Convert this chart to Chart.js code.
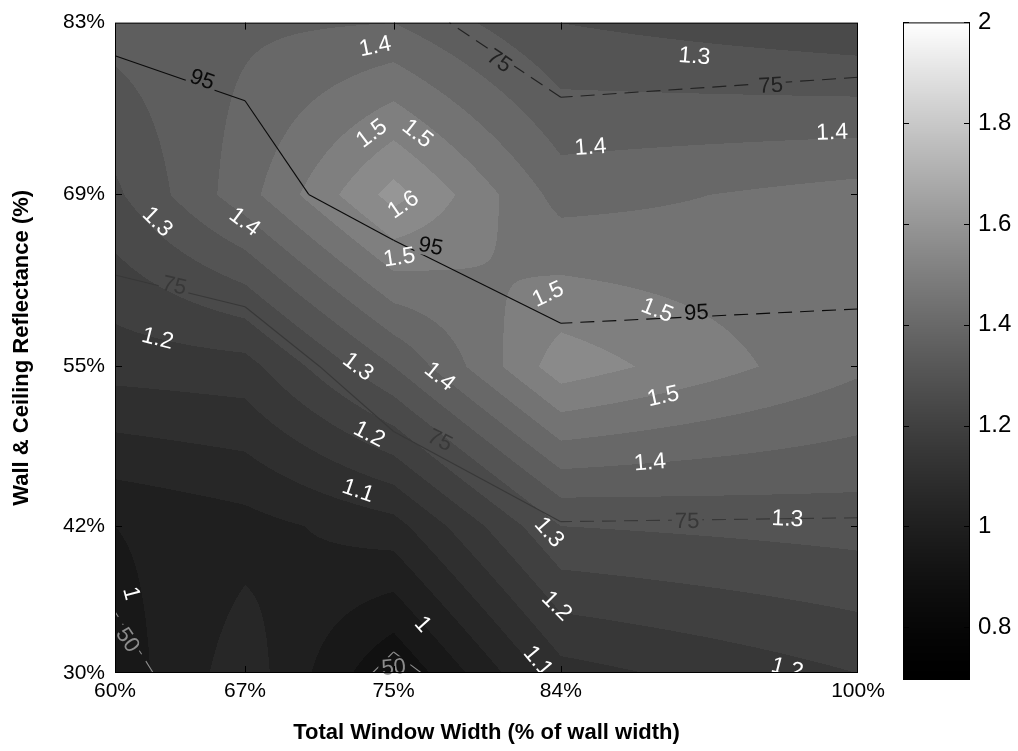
<!DOCTYPE html>
<html>
<head>
<meta charset="utf-8">
<script src="https://cdn.jsdelivr.net/npm/chart.js@4.4.0/dist/chart.umd.min.js"></script>
<style>
    html, body { margin: 0; padding: 0; background: #fff; }
    #wrap { position: relative; width: 1018px; height: 751px; overflow: hidden; }
    #main { position: absolute; left: 0; top: 0; }
    #bar { position: absolute; left: 880px; top: 0; }
</style>
</head>
<body>
<div id="wrap">
    <canvas id="main" width="1018" height="751"></canvas>
    <canvas id="bar" width="138" height="751"></canvas>
</div>
<script>
// axes
const windowWidth = [60, 67, 75, 84, 100];
const xTickText = ['60%', '67%', '75%', '84%', '100%'];
const reflectance = [30, 42, 55, 69, 83];
const yTickText = ['30%', '42%', '55%', '69%', '83%'];

// filled field, one row per reflectance, left to right by window width
const ratio30 = [0.97, 1.08, 0.90, 1.13, 1.20];
const ratio42 = [1.00, 1.03, 1.08, 1.30, 1.32];
const ratio55 = [1.17, 1.18, 1.35, 1.58, 1.46];
const ratio69 = [1.29, 1.43, 1.62, 1.43, 1.47];
const ratio83 = [1.37, 1.39, 1.40, 1.30, 1.26];

// overlaid line field A (50 / 75 / 95 contours)
const coverA30 = [45, 62, 48, 60, 62];
const coverA42 = [57, 62, 62, 74.5, 74];
const coverA55 = [58, 66, 84, 94, 94];
const coverA69 = [90, 92, 99, 98, 97];
const coverA83 = [96.2, 97.5, 99, 98, 97];
const coverALevels = [50, 75, 95];

// overlaid line field B (dashed 75 contour near the top)
const coverB30 = [90, 90, 90, 90, 90];
const coverB42 = [90, 90, 90, 90, 90];
const coverB55 = [90, 90, 90, 90, 90];
const coverB69 = [90, 90, 90, 88, 90];
const coverB83 = [90, 90, 80, 65, 68];
const coverBLevels = [75];

// contour labels of the filled field
const ratioLabelX = [74.0, 91.2, 73.8, 76.3, 85.6, 98.6, 62.3, 67.0, 75.5, 75.3, 83.3, 89.2, 89.5,
    62.3, 73.1, 77.5, 88.8, 73.7, 73.1, 83.4, 96.2, 60.9, 83.8, 76.6, 82.8, 96.2];
const ratioLabelY = [81.1, 80.3, 74.0, 74.0, 72.9, 74.1, 66.8, 66.8, 68.2, 63.9, 60.9, 59.6, 52.6,
    57.3, 55.0, 54.2, 47.2, 49.5, 44.9, 41.5, 42.6, 36.5, 35.5, 34.0, 31.0, 30.4];
const ratioLabelText = ['1.4', '1.3', '1.5', '1.5', '1.4', '1.4', '1.3', '1.4', '1.6', '1.5', '1.5', '1.5', '1.5',
    '1.2', '1.3', '1.4', '1.4', '1.2', '1.1', '1.3', '1.3', '1', '1.2', '1', '1.1', '1.2'];

// contour labels of the line fields
const coverALabelX = [64.7, 77.0, 91.3, 77.5, 90.8, 63.2, 60.7, 75.0];
const coverALabelY = [78.4, 64.8, 59.4, 49.0, 42.4, 61.6, 32.7, 30.5];
const coverALabelText = ['95', '95', '95', '75', '75', '75', '50', '50'];
const coverBLabelX = [80.7, 95.3];
const coverBLabelY = [79.9, 77.9];
const coverBLabelText = ['75', '75'];

const colorbarTicks = [0.8, 1, 1.2, 1.4, 1.6, 1.8, 2];
const colorMin = 0.695;
const colorMax = 2;
const bandStep = 0.05;

const ratioRows = [ratio30, ratio42, ratio55, ratio69, ratio83];
const coverARows = [coverA30, coverA42, coverA55, coverA69, coverA83];
const coverBRows = [coverB30, coverB42, coverB55, coverB69, coverB83];
const FONT = "'Liberation Sans', Arial, sans-serif";

function locate(arr, v) {
    let i = 0;
    while (i < arr.length - 2 && v > arr[i + 1]) i++;
    const t = (v - arr[i]) / (arr[i + 1] - arr[i]);
    return [i, Math.min(1, Math.max(0, t))];
}

function bilinear(rows, xv, yv) {
    const [i, u] = locate(windowWidth, xv);
    const [j, v] = locate(reflectance, yv);
    const a = rows[j][i], b = rows[j][i + 1], c = rows[j + 1][i], d = rows[j + 1][i + 1];
    return (1 - v) * ((1 - u) * a + u * b) + v * ((1 - u) * c + u * d);
}

function gray(val) {
    let t = (val - colorMin) / (colorMax - colorMin);
    t = Math.min(1, Math.max(0, t));
    return Math.round(255 * Math.pow(t, 1.45));
}

function labelAngle(rows, xv, yv, xs, ys) {
    const h = 0.3;
    const gx = (bilinear(rows, xv + h, yv) - bilinear(rows, xv - h, yv)) /
        (xs.getPixelForValue(xv + h) - xs.getPixelForValue(xv - h));
    const gy = (bilinear(rows, xv, yv + h) - bilinear(rows, xv, yv - h)) /
        (ys.getPixelForValue(yv + h) - ys.getPixelForValue(yv - h));
    let ang = Math.atan2(gx, -gy);
    if (ang > Math.PI / 2) ang -= Math.PI;
    if (ang < -Math.PI / 2) ang += Math.PI;
    return ang;
}

// marching squares on the coarse grid, straight segment per cell
function contourSegments(rows, L) {
    const segs = [];
    for (let j = 0; j < reflectance.length - 1; j++) {
        for (let i = 0; i < windowWidth.length - 1; i++) {
            const cx = [windowWidth[i], windowWidth[i + 1], windowWidth[i + 1], windowWidth[i]];
            const cy = [reflectance[j], reflectance[j], reflectance[j + 1], reflectance[j + 1]];
            const cv = [rows[j][i], rows[j][i + 1], rows[j + 1][i + 1], rows[j + 1][i]];
            const cross = [];
            for (let e = 0; e < 4; e++) {
                const n = (e + 1) % 4;
                if ((cv[e] - L) * (cv[n] - L) < 0) {
                    const t = (L - cv[e]) / (cv[n] - cv[e]);
                    cross[e] = [cx[e] + t * (cx[n] - cx[e]), cy[e] + t * (cy[n] - cy[e])];
                }
            }
            const edges = [0, 1, 2, 3].filter(e => cross[e]);
            if (edges.length === 2) segs.push([cross[edges[0]], cross[edges[1]]]);
            if (edges.length === 4) {
                const centerUp = (cv[0] + cv[1] + cv[2] + cv[3]) / 4 > L;
                for (let k = 0; k < 4; k++) {
                    if ((cv[k] > L) !== centerUp) segs.push([cross[(k + 3) % 4], cross[k]]);
                }
            }
        }
    }
    return segs;
}

// filled contour bands
const fieldPlugin = {
    id: 'field',
    beforeDraw(chart) {
        const { ctx, chartArea: a, scales: { x, y } } = chart;
        const w = Math.round(a.right - a.left), h = Math.round(a.bottom - a.top);
        const img = ctx.createImageData(w, h);
        for (let py = 0; py < h; py++) {
            const yv = y.getValueForPixel(a.top + py + 0.5);
            for (let px = 0; px < w; px++) {
                const xv = x.getValueForPixel(a.left + px + 0.5);
                const z = bilinear(ratioRows, xv, yv);
                const g = gray(Math.floor(z / bandStep + 1e-9) * bandStep);
                const k = (py * w + px) * 4;
                img.data[k] = img.data[k + 1] = img.data[k + 2] = g;
                img.data[k + 3] = 255;
            }
        }
        ctx.putImageData(img, Math.round(a.left), Math.round(a.top));
    }
};

function labelBoxes(ctx, xs, ys, lx, ly, texts, rows) {
    return texts.map((t, i) => {
        const cx = xs.getPixelForValue(lx[i]), cy = ys.getPixelForValue(ly[i]);
        const ang = labelAngle(rows, lx[i], ly[i], xs, ys);
        const w = ctx.measureText(t).width + 6, h = 20;
        return { t, cx, cy, ang, w, h };
    });
}

const lineColorA = { 50: '#8c8c8c', 75: '#383838', 95: '#0a0a0a' };
const lineColorB = { 75: '#222222' };

// line contours with labels
const linesPlugin = {
    id: 'lines',
    afterDatasetsDraw(chart) {
        const { ctx, chartArea: a, scales: { x, y } } = chart;
        ctx.save();
        ctx.font = '22px ' + FONT;
        const boxesA = labelBoxes(ctx, x, y, coverALabelX, coverALabelY, coverALabelText, coverARows);
        const boxesB = labelBoxes(ctx, x, y, coverBLabelX, coverBLabelY, coverBLabelText, coverBRows);
        ctx.font = '23px ' + FONT;
        const ratioBoxes = labelBoxes(ctx, x, y, ratioLabelX, ratioLabelY, ratioLabelText, ratioRows);

        // clip the chart area minus the label boxes
        ctx.beginPath();
        ctx.rect(a.left, a.top, a.right - a.left, a.bottom - a.top);
        boxesA.concat(boxesB).forEach(b => {
            const c = Math.cos(b.ang), s = Math.sin(b.ang);
            const pts = [[-b.w / 2, -b.h / 2], [b.w / 2, -b.h / 2], [b.w / 2, b.h / 2], [-b.w / 2, b.h / 2]]
                .map(([px, py]) => [b.cx + px * c - py * s, b.cy + px * s + py * c]);
            ctx.moveTo(pts[0][0], pts[0][1]);
            for (let k = 1; k < 4; k++) ctx.lineTo(pts[k][0], pts[k][1]);
            ctx.closePath();
        });
        ctx.clip('evenodd');

        const drawSet = (rows, levels, colors, dashRule) => {
            levels.forEach(L => {
                ctx.strokeStyle = colors[L];
                ctx.lineWidth = 1.1;
                contourSegments(rows, L).forEach(([p, q]) => {
                    ctx.setLineDash(dashRule(L, (p[0] + q[0]) / 2) ? [14, 8] : []);
                    ctx.beginPath();
                    ctx.moveTo(x.getPixelForValue(p[0]), y.getPixelForValue(p[1]));
                    ctx.lineTo(x.getPixelForValue(q[0]), y.getPixelForValue(q[1]));
                    ctx.stroke();
                });
            });
        };
        drawSet(coverARows, coverALevels, lineColorA, (L, mx) => L === 50 || mx > 84);
        drawSet(coverBRows, coverBLevels, lineColorB, () => true);
        ctx.restore();

        ctx.save();
        ctx.textAlign = 'center';
        ctx.textBaseline = 'middle';
        const drawLabels = (boxes, color, font) => {
            ctx.font = font;
            boxes.forEach(b => {
                ctx.save();
                ctx.translate(b.cx, b.cy);
                ctx.rotate(b.ang);
                ctx.fillStyle = color(b.t);
                ctx.fillText(b.t, 0, 1);
                ctx.restore();
            });
        };
        drawLabels(boxesA, t => lineColorA[t], '22px ' + FONT);
        drawLabels(boxesB, t => lineColorB[t], '22px ' + FONT);
        drawLabels(ratioBoxes, () => '#ffffff', '23px ' + FONT);
        ctx.restore();
    },
    afterDraw(chart) {
        const { ctx, chartArea: a, scales: { x, y } } = chart;
        ctx.save();
        ctx.strokeStyle = '#000';
        ctx.lineWidth = 1;
        ctx.strokeRect(a.left + 0.5, a.top + 0.5, a.right - a.left - 1, a.bottom - a.top - 1);
        ctx.beginPath();
        windowWidth.slice(1, -1).forEach(v => {
            const px = Math.round(x.getPixelForValue(v)) + 0.5;
            ctx.moveTo(px, a.top); ctx.lineTo(px, a.top + 7);
            ctx.moveTo(px, a.bottom); ctx.lineTo(px, a.bottom - 7);
        });
        reflectance.slice(1, -1).forEach(v => {
            const py = Math.round(y.getPixelForValue(v)) + 0.5;
            ctx.moveTo(a.left, py); ctx.lineTo(a.left + 7, py);
            ctx.moveTo(a.right, py); ctx.lineTo(a.right - 7, py);
        });
        ctx.stroke();
        ctx.restore();
    }
};

new Chart(document.getElementById('main'), {
    type: 'scatter',
    data: { datasets: [{ data: [], showLine: false }] },
    options: {
        responsive: false,
        animation: false,
        layout: { padding: { left: 0, right: 160, top: 17, bottom: 0 } },
        plugins: { legend: { display: false }, tooltip: { enabled: false } },
        scales: {
            x: {
                type: 'linear', min: 60, max: 100,
                afterBuildTicks: s => { s.ticks = windowWidth.map(v => ({ value: v })); },
                afterFit: s => { s.height = 78; },
                ticks: {
                    color: '#000', padding: 6, maxRotation: 0, autoSkip: false,
                    font: { family: FONT, size: 21 },
                    callback: v => xTickText[windowWidth.indexOf(v)]
                },
                grid: { display: false, drawTicks: false },
                border: { display: false },
                title: {
                    display: true, text: 'Total Window Width (% of wall width)', color: '#000',
                    font: { family: FONT, size: 22, weight: 'bold' }, padding: { top: 0, bottom: 5 }
                }
            },
            y: {
                type: 'linear', min: 30, max: 83,
                afterBuildTicks: s => { s.ticks = reflectance.map(v => ({ value: v })); },
                afterFit: s => { s.width = 115; },
                ticks: {
                    color: '#000', padding: 10, autoSkip: false,
                    font: { family: FONT, size: 21 },
                    callback: v => yTickText[reflectance.indexOf(v)]
                },
                grid: { display: false, drawTicks: false },
                border: { display: false },
                title: {
                    display: true, text: 'Wall & Ceiling Reflectance (%)', color: '#000',
                    font: { family: FONT, size: 22, weight: 'bold' }, padding: { top: 9, bottom: 0 }
                }
            }
        }
    },
    plugins: [fieldPlugin, linesPlugin]
});

// colour bar
const colorbarPlugin = {
    id: 'colorbar',
    beforeDraw(chart) {
        const { ctx, chartArea: a, scales: { y } } = chart;
        ctx.save();
        for (let py = Math.round(a.top); py < Math.round(a.bottom); py++) {
            const g = gray(y.getValueForPixel(py + 0.5));
            ctx.fillStyle = `rgb(${g},${g},${g})`;
            ctx.fillRect(a.left, py, a.right - a.left, 1);
        }
        ctx.restore();
    },
    afterDraw(chart) {
        const { ctx, chartArea: a, scales: { y } } = chart;
        ctx.save();
        ctx.strokeStyle = '#000';
        ctx.lineWidth = 1;
        ctx.strokeRect(a.left + 0.5, a.top + 0.5, a.right - a.left - 1, a.bottom - a.top - 1);
        ctx.beginPath();
        colorbarTicks.forEach(v => {
            const py = Math.round(y.getPixelForValue(v)) + 0.5;
            ctx.moveTo(a.left, py); ctx.lineTo(a.left + 6, py);
            ctx.moveTo(a.right, py); ctx.lineTo(a.right - 6, py);
        });
        ctx.stroke();
        ctx.restore();
    }
};

new Chart(document.getElementById('bar'), {
    type: 'scatter',
    data: { datasets: [{ data: [] }] },
    options: {
        responsive: false,
        animation: false,
        layout: { padding: { left: 23, right: 0, top: 17, bottom: 71 } },
        plugins: { legend: { display: false }, tooltip: { enabled: false } },
        scales: {
            x: { display: false, min: 0, max: 1 },
            y: {
                position: 'right', min: colorMin, max: colorMax,
                afterBuildTicks: s => { s.ticks = colorbarTicks.map(v => ({ value: v })); },
                afterFit: s => { s.width = 48; },
                ticks: {
                    color: '#000', padding: 8, autoSkip: false,
                    font: { family: FONT, size: 24 },
                    callback: v => String(+v.toFixed(1))
                },
                grid: { display: false, drawTicks: false },
                border: { display: false }
            }
        }
    },
    plugins: [colorbarPlugin]
});
</script>
</body>
</html>
